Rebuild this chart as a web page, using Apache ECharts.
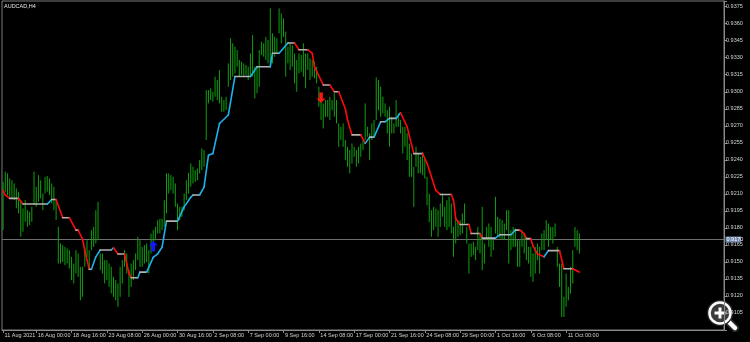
<!DOCTYPE html>
<html><head><meta charset="utf-8">
<script src="https://cdn.jsdelivr.net/npm/echarts@6/dist/echarts.min.js"></script>
<style>html,body{margin:0;padding:0;background:#000;} #c{width:750px;height:342px;}</style>
</head><body><div id="c"></div>
<script>
const chartTitle = 'AUDCAD,H4';
const highs = [
0.92207,0.92295,0.92280,0.92236,0.92220,0.92192,0.92148,0.92118,0.92045,0.91972,
0.92045,0.91957,0.91942,0.91986,0.92295,0.92163,0.92265,0.92220,0.92104,0.92250,
0.92257,0.92236,0.92192,0.92163,0.92045,0.91810,0.91663,0.91648,0.91633,0.91619,
0.91604,0.91545,0.91486,0.91604,0.91574,0.91457,0.91457,0.91633,0.91692,0.91604,
0.91780,0.91810,0.91957,0.92030,0.91574,0.91574,0.91516,0.91516,0.91486,0.91457,
0.91369,0.91340,0.91310,0.91457,0.91516,0.91604,0.91574,0.91427,0.91486,0.91516,
0.91574,0.91722,0.91692,0.91633,0.91648,0.91663,0.91604,0.91750,0.91780,0.91810,
0.91868,0.91880,0.91880,0.92044,0.92280,0.92280,0.92265,0.92250,0.92192,0.92015,
0.91986,0.91986,0.92103,0.92220,0.92286,0.92368,0.92339,0.92309,0.92324,0.92397,
0.92500,0.92486,0.93015,0.93015,0.93030,0.93000,0.93133,0.93103,0.93191,0.92956,
0.92927,0.92956,0.93250,0.93471,0.93427,0.93397,0.93368,0.93280,0.93265,0.93250,
0.93236,0.93221,0.93338,0.93500,0.93221,0.93221,0.93368,0.93441,0.93427,0.93485,
0.93456,0.93735,0.93515,0.93485,0.93471,0.93735,0.93691,0.93647,0.93530,0.93397,
0.93427,0.93410,0.93338,0.93280,0.93338,0.93324,0.93427,0.93338,0.93338,0.93294,
0.93280,0.93265,0.93221,0.93044,0.92927,0.92897,0.92927,0.92927,0.92956,0.92927,
0.92986,0.92927,0.92721,0.92691,0.92721,0.92574,0.92515,0.92486,0.92544,0.92515,
0.92486,0.92515,0.92544,0.92574,0.92897,0.92691,0.92633,0.92721,0.92750,0.93127,
0.93103,0.93044,0.92956,0.92897,0.92838,0.92868,0.92780,0.92721,0.92927,0.92809,
0.92750,0.92691,0.92691,0.92633,0.92544,0.92456,0.92339,0.92515,0.92456,0.92427,
0.92470,0.92410,0.92250,0.92100,0.91956,0.91986,0.91970,0.91956,0.92015,0.92103,
0.91986,0.92045,0.92074,0.92015,0.91809,0.91898,0.91868,0.91868,0.91927,0.92015,
0.91809,0.91662,0.91662,0.91677,0.91633,0.91809,0.91751,0.91986,0.91662,0.91809,
0.91839,0.91809,0.91692,0.92074,0.91898,0.91883,0.91868,0.91839,0.91956,0.91956,
0.91780,0.91809,0.91795,0.91692,0.91692,0.91780,0.91751,0.91692,0.91633,0.91633,
0.91574,0.91633,0.91662,0.91633,0.91751,0.91780,0.91868,0.91839,0.91809,0.91809,
0.91839,0.91633,0.91486,0.91486,0.91192,0.91398,0.91280,0.91457,0.91604,0.91809,
0.91780,0.91751
];
const lows = [
0.91780,0.92119,0.92089,0.92074,0.92060,0.92045,0.91972,0.91927,0.91722,0.91766,
0.91854,0.91810,0.91825,0.91854,0.92000,0.91986,0.92030,0.92060,0.91957,0.92104,
0.92119,0.92089,0.92016,0.91957,0.91869,0.91486,0.91486,0.91500,0.91472,0.91486,
0.91442,0.91339,0.91310,0.91398,0.91369,0.91163,0.91192,0.91457,0.91545,0.91427,
0.91604,0.91633,0.91663,0.91692,0.91427,0.91398,0.91310,0.91340,0.91280,0.91222,
0.91192,0.91163,0.91104,0.91192,0.91310,0.91457,0.91398,0.91192,0.91280,0.91340,
0.91427,0.91516,0.91457,0.91457,0.91486,0.91500,0.91398,0.91574,0.91660,0.91690,
0.91750,0.91750,0.91780,0.91809,0.91927,0.92103,0.92133,0.92103,0.91986,0.91780,
0.91868,0.91897,0.91956,0.92044,0.92103,0.92162,0.92192,0.92206,0.92221,0.92280,
0.92309,0.92339,0.92574,0.92897,0.92927,0.92912,0.92956,0.92927,0.92897,0.92824,
0.92824,0.92839,0.93044,0.93103,0.93133,0.93162,0.93221,0.93133,0.93147,0.93133,
0.93147,0.93103,0.93133,0.93133,0.92941,0.92986,0.93044,0.93324,0.93309,0.93280,
0.93250,0.93221,0.93250,0.93309,0.93338,0.93515,0.93427,0.93485,0.93133,0.93250,
0.93191,0.93221,0.93074,0.93000,0.93162,0.93177,0.93133,0.93030,0.93191,0.93103,
0.93133,0.93118,0.93074,0.92868,0.92750,0.92677,0.92780,0.92780,0.92750,0.92838,
0.92780,0.92721,0.92515,0.92574,0.92515,0.92397,0.92339,0.92280,0.92368,0.92427,
0.92339,0.92368,0.92427,0.92486,0.92574,0.92603,0.92397,0.92574,0.92603,0.92750,
0.92838,0.92780,0.92809,0.92780,0.92633,0.92515,0.92633,0.92633,0.92691,0.92691,
0.92633,0.92456,0.92515,0.92397,0.92250,0.92250,0.91986,0.92339,0.92280,0.92280,
0.92265,0.92235,0.92000,0.91850,0.91721,0.91780,0.91810,0.91721,0.91809,0.91898,
0.91809,0.91780,0.91809,0.91751,0.91545,0.91662,0.91721,0.91736,0.91751,0.91839,
0.91662,0.91398,0.91545,0.91560,0.91515,0.91604,0.91574,0.91427,0.91486,0.91692,
0.91633,0.91545,0.91604,0.91751,0.91721,0.91706,0.91692,0.91692,0.91780,0.91486,
0.91604,0.91633,0.91633,0.91457,0.91457,0.91633,0.91574,0.91515,0.91486,0.91368,
0.91324,0.91398,0.91515,0.91398,0.91604,0.91604,0.91692,0.91633,0.91692,0.91662,
0.91721,0.91457,0.91280,0.91015,0.91015,0.91104,0.91162,0.91221,0.91309,0.91633,
0.91604,0.91574
];
const lineIdx = [0,1,3,7,9,20,22,24,27,30,33,34,36,37,39,40,42,44,49,50,52,55,57,58,61,62,65,68,70,72,74,79,82,85,86,89,91,93,95,98,102,105,112,115,121,122,125,129,132,134,138,140,141,145,148,150,152,155,156,158,162,164,166,168,171,173,175,178,180,183,186,190,192,193,196,198,203,204,205,207,211,212,216,217,223,225,230,232,234,236,237,239,240,242,245,247,252,254,258,260,261];
const lineVal = [0.92130,0.92090,0.92060,0.92060,0.92010,0.92010,0.92050,0.92050,0.91890,0.91890,0.91780,0.91780,0.91700,0.91600,0.91435,0.91435,0.91545,0.91605,0.91605,0.91625,0.91570,0.91570,0.91400,0.91360,0.91360,0.91410,0.91410,0.91540,0.91570,0.91630,0.91860,0.91860,0.91985,0.92070,0.92090,0.92090,0.92160,0.92440,0.92455,0.92720,0.92795,0.93135,0.93135,0.93220,0.93220,0.93340,0.93340,0.93430,0.93430,0.93370,0.93370,0.93340,0.93220,0.93060,0.93060,0.93000,0.93000,0.92850,0.92750,0.92620,0.92620,0.92545,0.92600,0.92600,0.92735,0.92735,0.92765,0.92765,0.92815,0.92690,0.92455,0.92455,0.92370,0.92310,0.92130,0.92095,0.92095,0.92045,0.91880,0.91830,0.91830,0.91750,0.91750,0.91710,0.91710,0.91740,0.91740,0.91780,0.91780,0.91750,0.91705,0.91705,0.91640,0.91570,0.91545,0.91600,0.91600,0.91440,0.91440,0.91420,0.91410];
const arrowUp = [[68, 0.91635]];
const arrowDown = [[144, 0.92950]];
const lastPrice = 0.9170;
const yTickLabels = ['0.9375','0.9360','0.9345','0.9330','0.9315','0.9300','0.9285','0.9270','0.9255','0.9240','0.9225','0.9210','0.9195','0.9180','0.9165','0.9150','0.9135','0.9120','0.9105'];
const xTickLabels = ['11 Aug 2021','16 Aug 00:00','18 Aug 16:00','23 Aug 08:00','26 Aug 00:00','30 Aug 16:00','2 Sep 08:00','7 Sep 00:00','9 Sep 16:00','14 Sep 08:00','17 Sep 00:00','21 Sep 16:00','24 Sep 08:00','29 Sep 00:00','1 Oct 16:00','6 Oct 08:00','11 Oct 00:00'];
const totalSlots = 327;

const monthNames = ['Jan','Feb','Mar','Apr','May','Jun','Jul','Aug','Sep','Oct','Nov','Dec'];
const categories = [];
let t = Date.UTC(2021, 7, 11, 12);
while (categories.length < totalSlots) {
  const d = new Date(t);
  const wd = d.getUTCDay();
  if (wd !== 0 && wd !== 6) {
    categories.push(d.getUTCDate() + ' ' + monthNames[d.getUTCMonth()] + ' ' + String(d.getUTCHours()).padStart(2, '0') + ':00');
  }
  t += 4 * 3600 * 1000;
}
const showTick = (idx) => idx === 0 || xTickLabels.indexOf(categories[idx]) >= 0;

const barData = highs.map((h, i) => [i, h, lows[i]]);
const segData = [];
for (let k = 0; k < lineIdx.length - 1; k++) {
  segData.push([lineIdx[k], lineVal[k], lineIdx[k + 1], lineVal[k + 1]]);
}

const FONT = 'Liberation Sans';
function arrowRender(dir, color) {
  return (params, api) => {
    const p = api.coord([api.value(0), api.value(1)]);
    const s = dir; // 1 = up, -1 = down
    const pts = [[0, -5.5], [4.5, -1], [1.8, -1], [1.8, 5], [-1.8, 5], [-1.8, -1], [-4.5, -1]]
      .map(q => [p[0] + q[0], p[1] + q[1] * s]);
    return {type: 'polygon', shape: {points: pts}, style: {fill: color}};
  };
}

const chart = echarts.init(document.getElementById('c'), null, {renderer: 'canvas'});
chart.setOption({
  backgroundColor: '#000000',
  animation: false,
  grid: {left: 2, right: 26, top: 1, bottom: 12, show: true, borderColor: '#7c7c7c', borderWidth: 1, backgroundColor: '#000'},
  xAxis: {
    type: 'category', data: categories, boundaryGap: true,
    axisLine: {show: true, lineStyle: {color: '#8a8a8a'}},
    axisTick: {show: true, alignWithLabel: true, length: 3, interval: showTick, lineStyle: {color: '#8a8a8a'}},
    axisLabel: {
      interval: showTick, fontSize: 5.5, fontFamily: FONT, color: '#d4d4d4', align: 'left', margin: 2.5, padding: [0, 0, 0, 1.5],
      formatter: (val, idx) => idx === 0 ? xTickLabels[0] : val
    },
    splitLine: {show: false}
  },
  yAxis: {
    type: 'value', position: 'right', min: 0.9090, max: 0.9380, interval: 0.0015,
    axisLine: {show: true, lineStyle: {color: '#8a8a8a'}},
    axisTick: {show: true, length: 3, lineStyle: {color: '#8a8a8a'}},
    axisLabel: {
      fontSize: 5.5, fontFamily: FONT, color: '#d4d4d4', margin: 2,
      formatter: v => { const s = v.toFixed(4); return yTickLabels.indexOf(s) >= 0 ? s : ''; }
    },
    splitLine: {show: false}
  },
  series: [
    {
      type: 'custom', name: 'price', data: [[0, lastPrice]], encode: {x: 0, y: 1}, z: 1,
      renderItem: (params, api) => {
        const cs = params.coordSys;
        const y = Math.round(api.coord([0, api.value(1)])[1]) + 0.5;
        const xr = cs.x + cs.width;
        return {type: 'group', children: [
          {type: 'line', shape: {x1: cs.x, y1: y, x2: xr, y2: y}, style: {stroke: '#6e6e6e', lineWidth: 1}},
          {type: 'rect', shape: {x: xr + 1.5, y: y - 3, width: 15.5, height: 6}, style: {fill: '#6f87a8'}},
          {type: 'text', x: xr + 2.5, y: y + 0.3, style: {text: api.value(1).toFixed(4), fill: '#ffffff', fontSize: 5.5, fontFamily: FONT, verticalAlign: 'middle', align: 'left'}}
        ]};
      }
    },
    {
      type: 'custom', name: 'bars', data: barData, encode: {x: 0, y: [1, 2]}, z: 2,
      renderItem: (params, api) => {
        const a = api.coord([api.value(0), api.value(1)]);
        const b = api.coord([api.value(0), api.value(2)]);
        return {type: 'line', shape: {x1: a[0], y1: a[1], x2: b[0], y2: b[1]}, style: {stroke: '#0fa00f', lineWidth: 1}};
      }
    },
    {
      type: 'custom', name: 'trend', data: segData, encode: {x: [0, 2], y: [1, 3]}, z: 3,
      renderItem: (params, api) => {
        const v0 = api.value(1), v1 = api.value(3);
        const a = api.coord([api.value(0), v0]);
        const b = api.coord([api.value(2), v1]);
        const dv = v1 - v0;
        const col = Math.abs(dv) < 1e-7 ? '#b4b4b4' : (dv > 0 ? '#1cb2ea' : '#ff0a0a');
        return {type: 'line', shape: {x1: a[0], y1: a[1], x2: b[0], y2: b[1]}, style: {stroke: col, lineWidth: 1.6, lineCap: 'round'}};
      }
    },
    {type: 'custom', name: 'buy', data: arrowUp, encode: {x: 0, y: 1}, z: 4, renderItem: arrowRender(1, '#1414ff')},
    {type: 'custom', name: 'sell', data: arrowDown, encode: {x: 0, y: 1}, z: 4, renderItem: arrowRender(-1, '#ff1414')}
  ],
  graphic: [
    {type: 'text', left: 4, top: 3, style: {text: chartTitle, fill: '#e8e8e8', fontSize: 5.5, fontFamily: FONT}, z: 10},
    {
      type: 'group', x: 720, y: 313, z: 20,
      children: [
        {type: 'line', shape: {x1: 6, y1: 6, x2: 15, y2: 15}, style: {stroke: '#2a2a2a', lineWidth: 8, lineCap: 'round'}},
        {type: 'line', shape: {x1: 6, y1: 6, x2: 15, y2: 15}, style: {stroke: '#ffffff', lineWidth: 4.5, lineCap: 'round'}},
        {type: 'circle', shape: {cx: 0, cy: 0, r: 13}, style: {fill: '#2a2a2a'}},
        {type: 'circle', shape: {cx: 0, cy: 0, r: 10.5}, style: {fill: '#3c3c3c', stroke: '#ffffff', lineWidth: 2.5}},
        {type: 'rect', shape: {x: -5.5, y: -1.5, width: 11, height: 3}, style: {fill: '#ffffff'}},
        {type: 'rect', shape: {x: -1.5, y: -5.5, width: 3, height: 11}, style: {fill: '#ffffff'}}
      ]
    }
  ]
});
</script>
</body></html>
